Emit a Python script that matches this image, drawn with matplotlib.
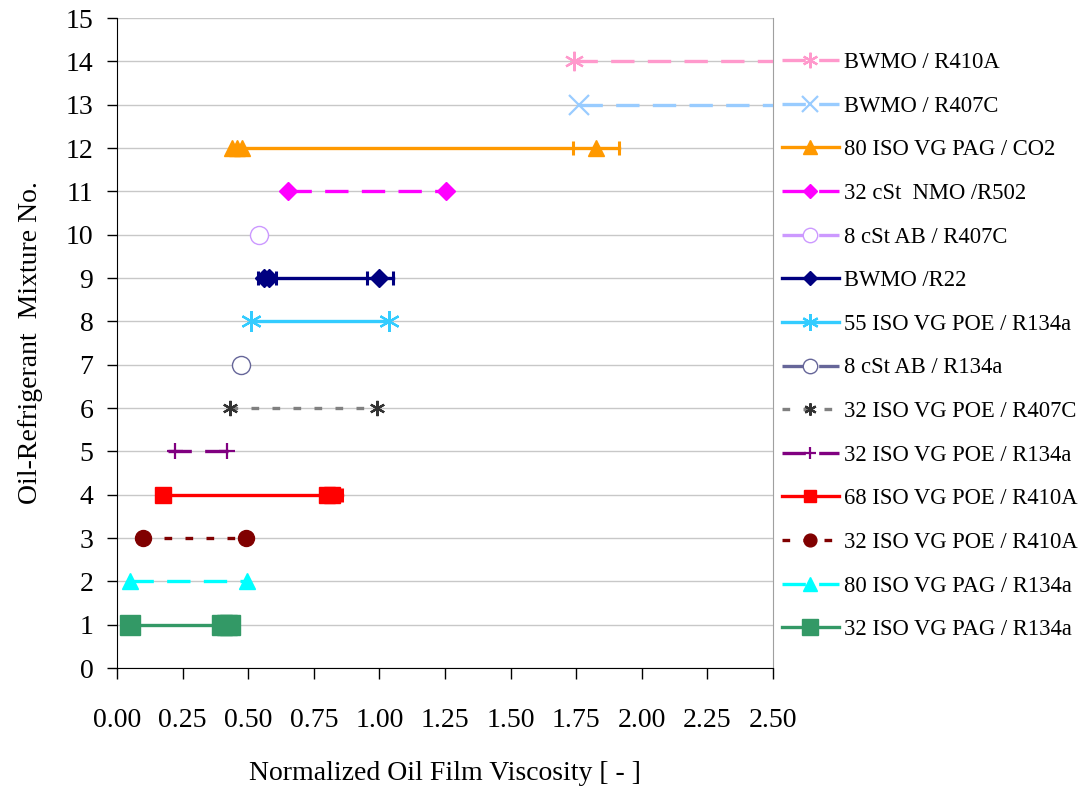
import matplotlib.pyplot as plt
from matplotlib.lines import Line2D
import numpy as np

plt.rcParams['font.family'] = ['Liberation Serif', 'DejaVu Serif']

mixture_no = list(range(1, 15))
labels = ["32 ISO VG PAG / R134a", "80 ISO VG PAG / R134a", "32 ISO VG POE / R410A",
          "68 ISO VG POE / R410A", "32 ISO VG POE / R134a", "32 ISO VG POE / R407C",
          "8 cSt AB / R134a", "55 ISO VG POE / R134a", "BWMO /R22", "8 cSt AB / R407C",
          "32 cSt  NMO /R502", "80 ISO VG PAG / CO2", "BWMO / R407C", "BWMO / R410A"]

# viscosity values drawn with the series marker
visc_pts = [[0.05, 0.40, 0.42, 0.43], [0.05, 0.494], [0.098, 0.49], [0.176, 0.80, 0.82],
            [0.22, 0.42], [0.43, 0.99], [0.473], [0.51, 1.035], [0.56, 0.58, 1.00],
            [0.54], [0.652, 1.254], [0.44, 0.457, 0.475, 1.825], [1.76], [1.74]]
# range ends (small tick or plain line end)
visc_ends = [[], [], [], [0.857], [0.195, 0.44], [], [], [], [0.537, 0.606, 0.953, 1.052],
             [], [], [1.737, 1.913], [2.6], [2.6]]

colors = ['#339966', '#00FFFF', '#800000', '#FF0000', '#800080', '#808080', '#666699',
          '#33CCFF', '#000080', '#CC99FF', '#FF00FF', '#FF9900', '#99CCFF', '#FF99CC']
mk_colors = ['#339966', '#00FFFF', '#800000', '#FF0000', '#800080', '#333333', '#666699',
             '#33CCFF', '#000080', '#CC99FF', '#FF00FF', '#FF9900', '#99CCFF', '#FF99CC']
star = (6, 2, 0)
markers = ['s', '^', 'o', 's', '+', star, 'o', star, 'D', 'o', 'D', '^', 'x', star]
msizes = [14, 12, 11.5, 11, 11, 11, 13, 15, 9.5, 13, 9.5, 12, 15, 14]
filled = [True, True, True, True, True, True, False, True, True, False, True, True, True, True]
long_dash = (0, (7, 4))
dots = (0, (2.3, 4))
styles = ['-', long_dash, dots, '-', long_dash, dots, long_dash, '-', '-', long_dash,
          long_dash, '-', long_dash, long_dash]
end_marks = ['', '', '', '|', '', '', '', '', '|', '', '', '|', '', '']

fig = plt.figure(figsize=(10.86, 7.92), dpi=100)
ax = fig.add_axes([117 / 1086, 1 - 668 / 792, 656 / 1086, 650 / 792])

handles = []
for i, row in enumerate(mixture_no):
    xs = sorted(visc_pts[i] + visc_ends[i])
    ax.plot(xs, [row] * len(xs), color=colors[i], lw=2.4, ls=styles[i], zorder=3)
    mfc = mk_colors[i] if filled[i] else 'white'
    mew = 1.6 if markers[i] in ('+', 'x', star) else 1.0
    ax.plot(visc_pts[i], [row] * len(visc_pts[i]), ls='none', marker=markers[i],
            ms=msizes[i], mfc=mfc, mec=mk_colors[i], mew=mew, zorder=4)
    if end_marks[i]:
        ax.plot(visc_ends[i], [row] * len(visc_ends[i]), ls='none', marker=end_marks[i],
                ms=10, mew=2.2, color=colors[i], zorder=4)
    handles.append(Line2D([], [], color=colors[i], lw=2.4, ls=styles[i], marker=markers[i],
                          ms=msizes[i] * 0.8, mfc=mfc, mec=mk_colors[i], mew=mew))

ax.set_xlim(0, 2.5)
ax.set_ylim(0, 15)
xt = np.arange(0, 2.51, 0.25)
ax.set_xticks(xt)
ax.set_xticklabels([f"{v:.2f}" for v in xt])
ax.set_yticks(range(0, 16))
ax.tick_params(axis='x', direction='out', length=8, width=1, pad=21, labelsize=20)
ax.tick_params(axis='y', direction='out', length=7, width=1, pad=10, labelsize=20)
ax.grid(axis='y', color='#C8C8C8', lw=1)
ax.set_axisbelow(True)
ax.spines['top'].set_visible(False)
ax.spines['right'].set_color('#A0A0A0')
ax.spines['left'].set_color('black')
ax.spines['bottom'].set_color('black')

ax.set_xlabel("Normalized Oil Film Viscosity [ - ]", fontsize=20, labelpad=20)
ax.set_ylabel("Oil-Refrigerant  Mixture No.", fontsize=20, labelpad=16)

fig.legend(handles[::-1], labels[::-1], loc='upper left',
           bbox_to_anchor=(782 / 1086, 1 - 52 / 792), frameon=False, fontsize=16.3,
           labelspacing=1.0, handlelength=2.5, handletextpad=0.25, borderpad=0,
           borderaxespad=0, numpoints=1)

fig.savefig('out.png', dpi=100)
